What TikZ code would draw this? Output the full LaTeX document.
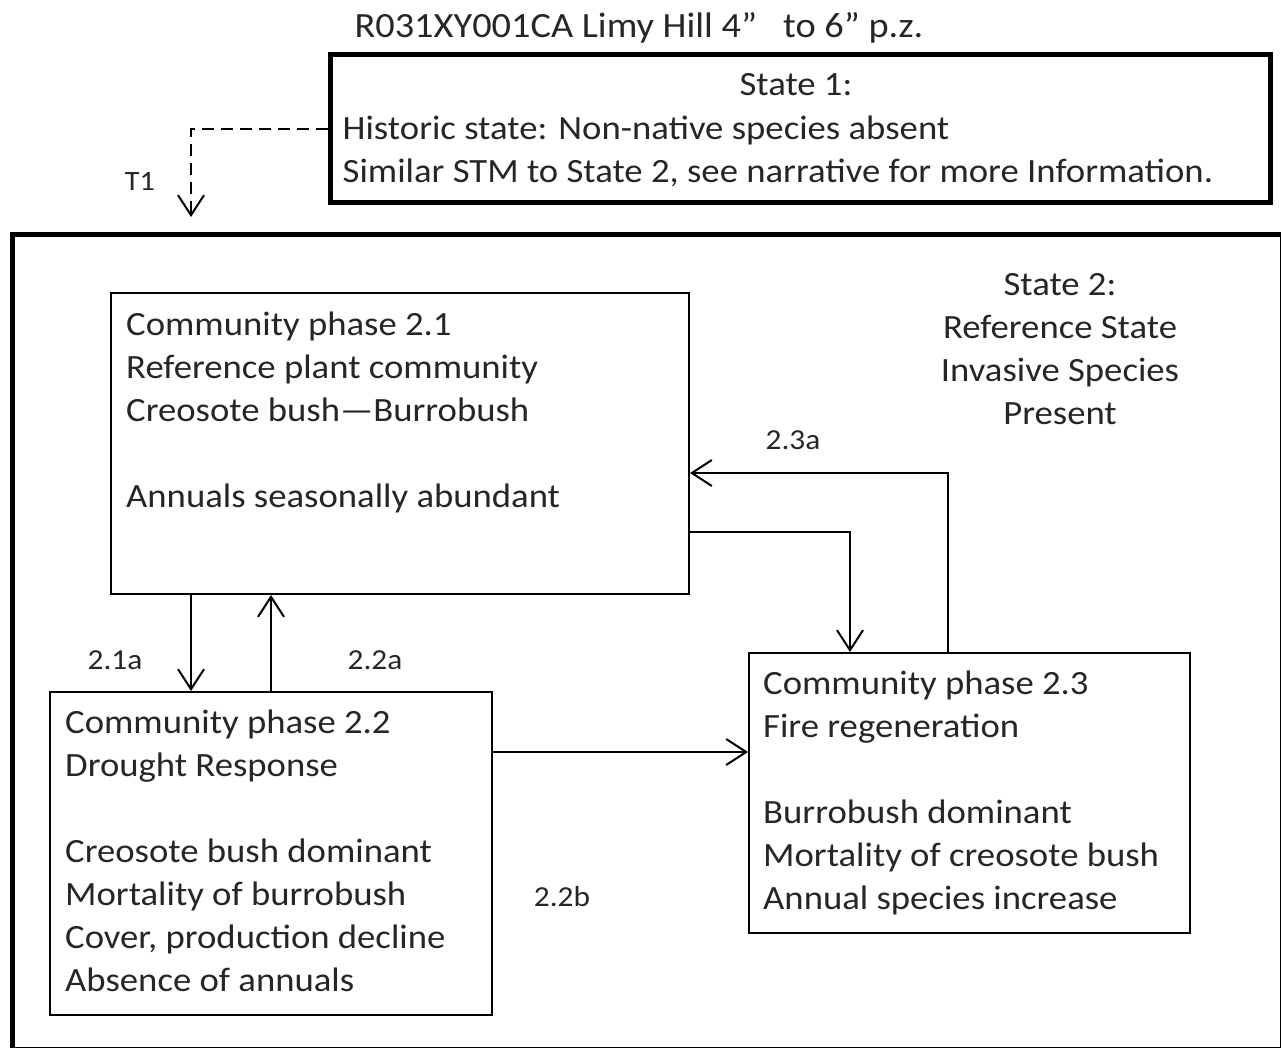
\documentclass[tikz,border=0pt]{standalone}
\usepackage{fontspec}
\setmainfont[FakeStretch=1.08]{Carlito}
\usetikzlibrary{positioning,arrows.meta}
\tikzset{>={Straight Barb[length=20pt,width=26pt,line width=2pt]}}

\begin{document}
\begin{tikzpicture}[x=1pt,y=-1pt]
        \fontsize{34}{43}\selectfont
        \tikzset{
        statebox/.style={draw=black, line width=5pt, inner sep=0pt},
        phasebox/.style={draw=black, line width=2pt, inner sep=0pt},
        txt/.style={anchor=north west, inner sep=0pt, align=left, text=black!85},
        lbl/.style={inner sep=0pt, text=black!85, font=\fontsize{29}{34}\selectfont},
        conn/.style={line width=2pt, ->},
        }
        \useasboundingbox (0,0) rectangle (1281,1048);

        % Title.
        \path (639,28) node[inner sep=0pt, text=black!85, font=\fontsize{35.5}{43}\selectfont] (title) {R031XY001CA Limy Hill 4”\ \ \ to 6”\ p.z.};

        % State 1.
        \path (800,129)    node[statebox, minimum width=940, minimum height=148] (s1) {};
        \path (796,85)     node[inner sep=0pt, text=black!85] (s1head) {State 1:};
        \path ([xshift=15pt,yshift=-63pt]s1.north west) node[txt] (s1txt)
              {Historic state: Non-native species absent\\Similar STM to State 2,\ see narrative for more Information.};

        % State 2.
        \path (1060,349)   node[align=center, inner sep=0pt, text=black!85] (s2txt)
              {State 2:\\Reference State\\Invasive Species\\Present};
        \path (647.25,641.75) node[statebox, minimum width=1269.5, minimum height=814.5] (s2) {};

        % Community phases.
        \path (400,443.5)  node[phasebox, minimum width=578, minimum height=301] (p21) {};
        \path (271,853.5)  node[phasebox, minimum width=442, minimum height=323] (p22) {};
        \path (969.5,793)  node[phasebox, minimum width=441, minimum height=280] (p23) {};

        \path ([xshift=16pt,yshift=-20pt]p21.north west) node[txt] (p21txt)
              {Community phase 2.1\\Reference plant community\\Creosote bush—Burrobush\\[43pt]Annuals seasonally abundant};
        \path ([xshift=16pt,yshift=-19pt]p22.north west) node[txt] (p22txt)
              {Community phase 2.2\\Drought Response\\[43pt]Creosote bush dominant\\Mortality of burrobush\\Cover, production decline\\Absence of annuals};
        \path ([xshift=15pt,yshift=-19pt]p23.north west) node[txt] (p23txt)
              {Community phase 2.3\\Fire regeneration\\[43pt]Burrobush dominant\\Mortality of creosote bush\\Annual species increase};

        % Transitions.
        \coordinate (t1end) at (191,217);
        \draw [line width=2pt, dash pattern=on 12pt off 7pt, ->] (s1.west) -| (t1end);
        \path (140,181) node[lbl, font=\fontsize{28}{30}\selectfont] (t1) {T1};

        % Pathways.
        \coordinate (x21a) at (191,0);
        \coordinate (x22a) at (271,0);
        \coordinate (y22b) at (0,752);
        \coordinate (y21e) at (0,532);
        \coordinate (x21e) at (850,0);
        \coordinate (x23a) at (948,0);
        \coordinate (y23a) at (0,473);

        \draw [conn] (p21.south -| x21a) -- (p22.north -| x21a);
        \draw [conn] (p22.north -| x22a) -- (p21.south -| x22a);
        \draw [conn] (p22.east |- y22b)  -- (p23.west |- y22b);
        \draw [conn] (p21.east |- y21e)  -| (p23.north -| x21e);
        \draw [conn] (p23.north -| x23a) |- (p21.east |- y23a);

        \path (115,660) node[lbl] (l21a) {2.1a};
        \path (375,660) node[lbl] (l22a) {2.2a};
        \path (562,897) node[lbl] (l22b) {2.2b};
        \path (793,440) node[lbl] (l23a) {2.3a};
\end{tikzpicture}
\end{document}
